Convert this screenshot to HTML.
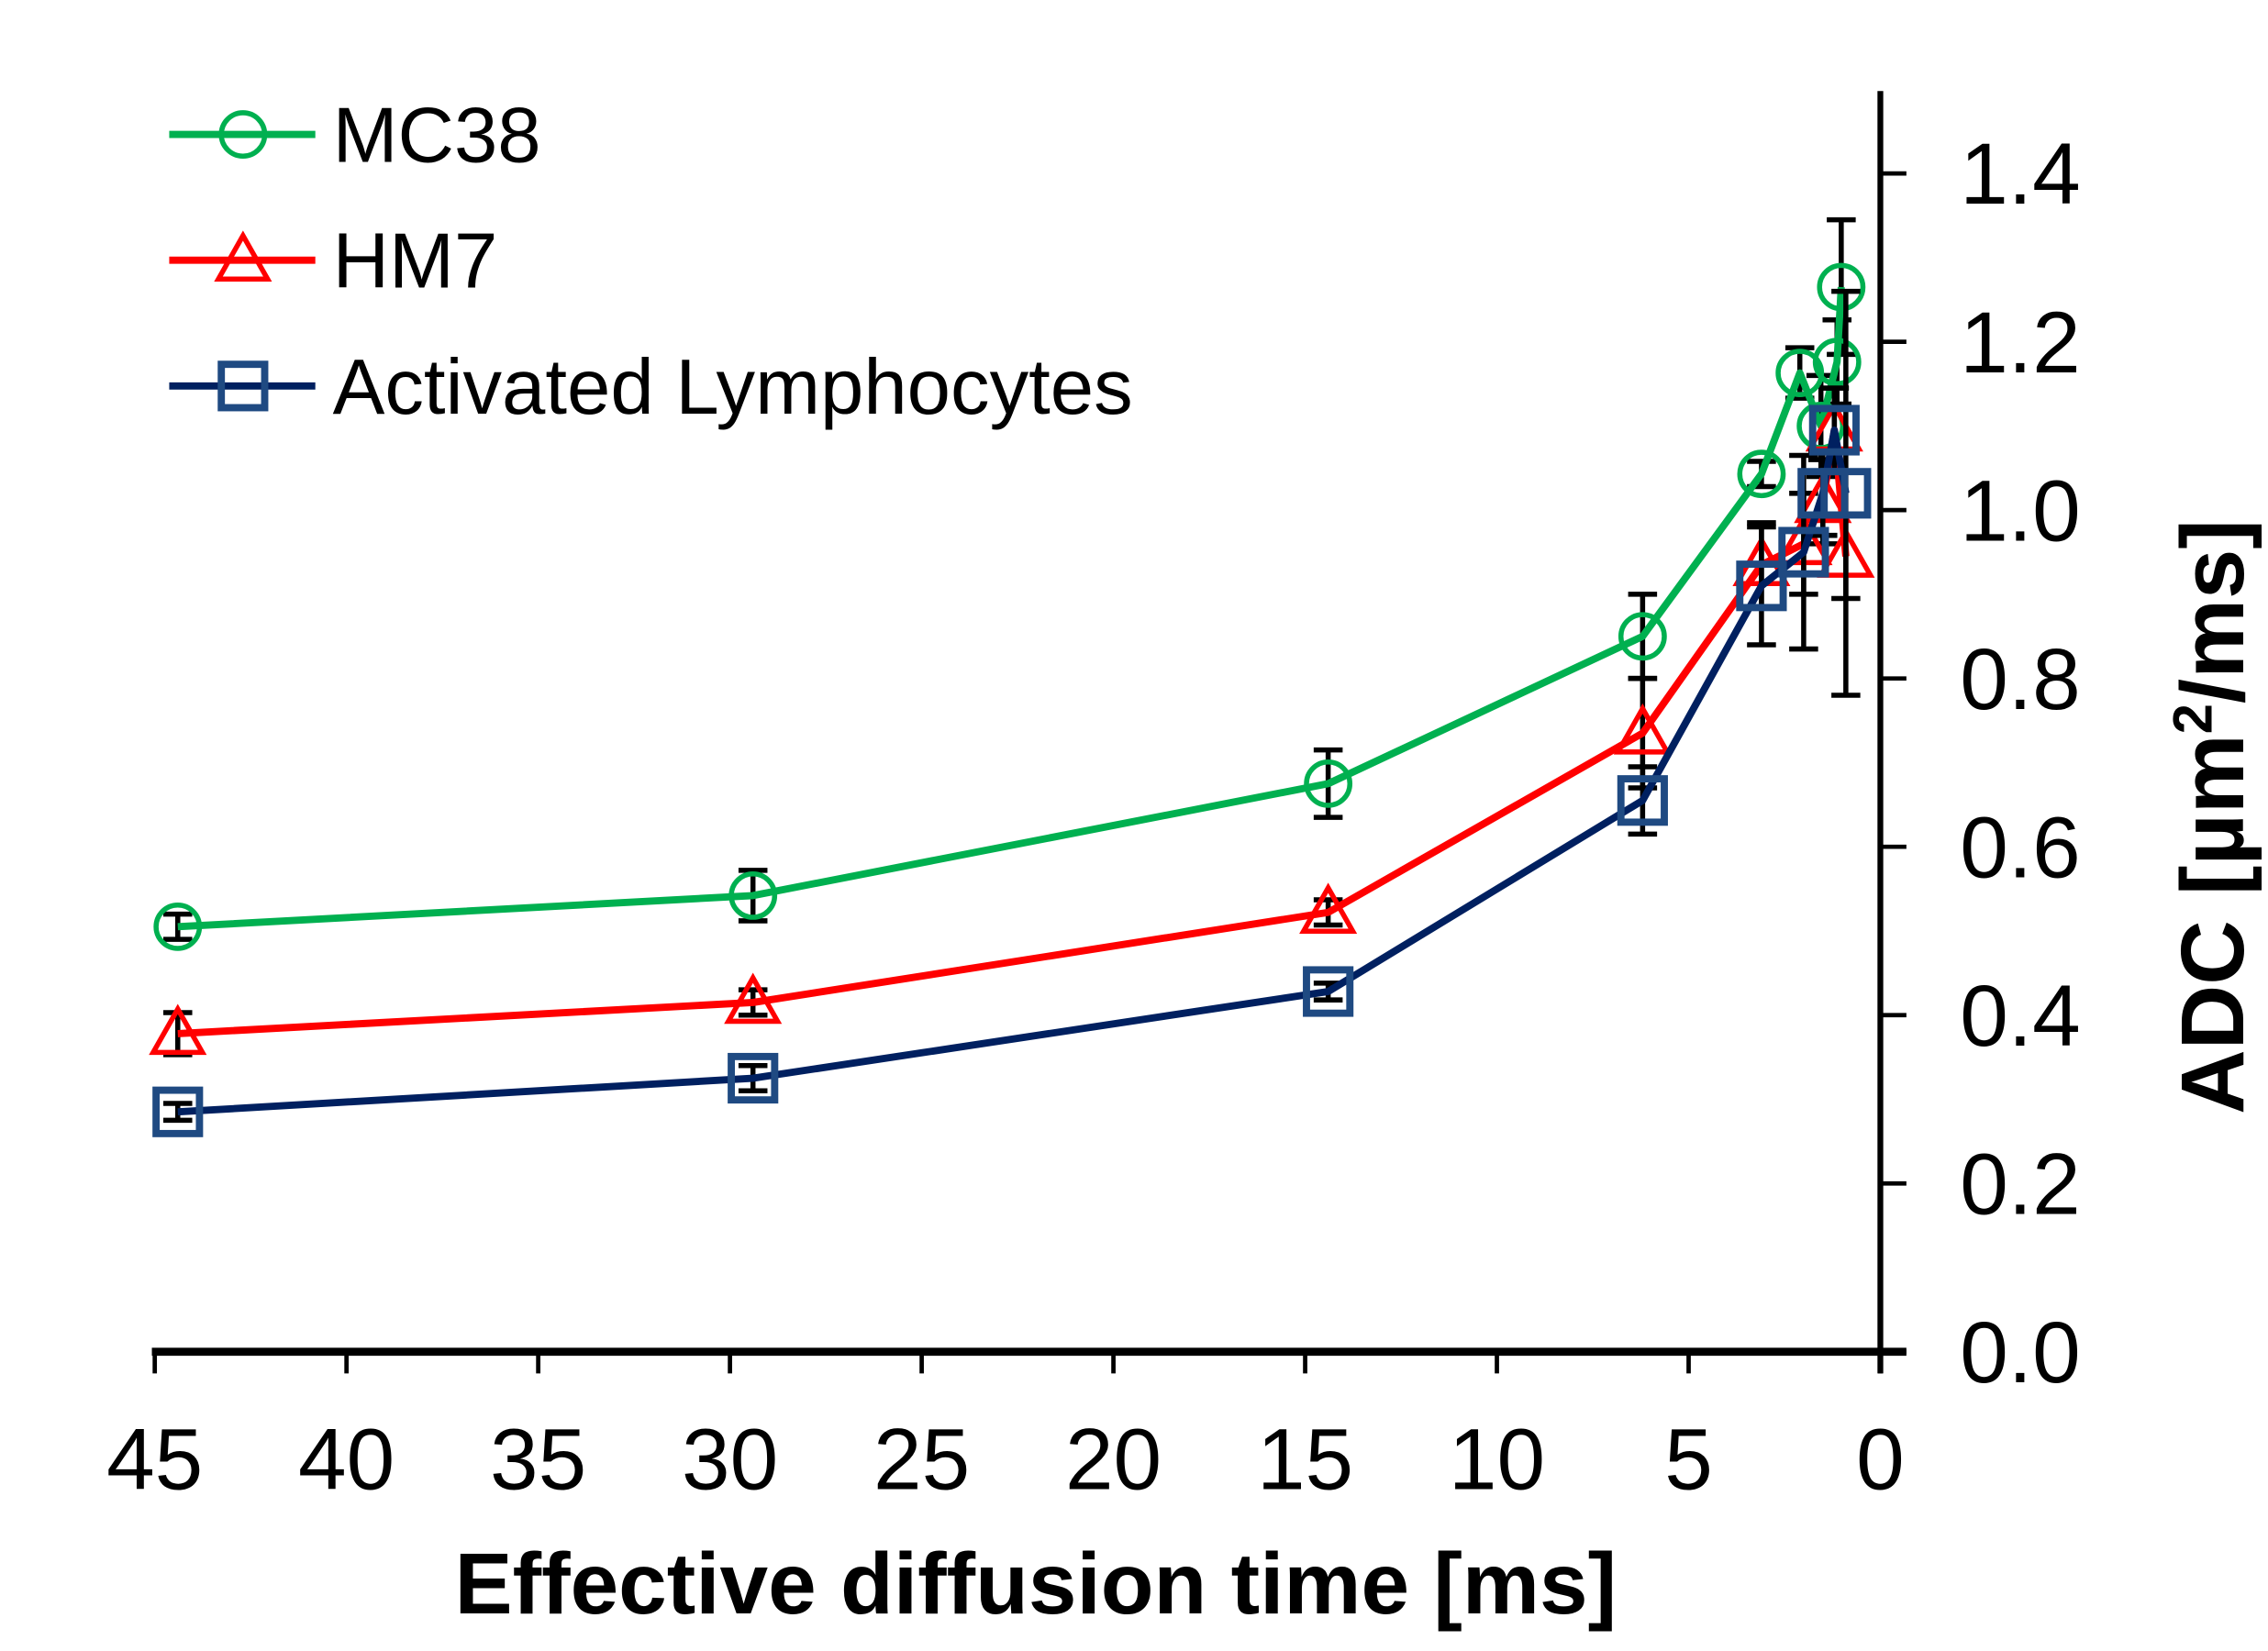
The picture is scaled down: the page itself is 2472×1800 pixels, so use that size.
<!DOCTYPE html>
<html><head><meta charset="utf-8"><style>
html,body{margin:0;padding:0;background:#fff;}
svg{display:block;}
text{font-family:"Liberation Sans",Arial,sans-serif;}
</style></head><body>
<svg id="chart" xmlns="http://www.w3.org/2000/svg" width="2472" height="1800" viewBox="0 0 1568 1142" preserveAspectRatio="none">
<rect width="1568" height="1142" fill="#fff"/>
<g id="axes"></g>
<g id="series"></g>
<g id="legend"></g>
<text x="716" y="1116" font-size="60" font-weight="bold" text-anchor="middle">Effective diffusion time [ms]</text>
<text transform="translate(1551,565) rotate(-90)" font-size="62" font-weight="bold" text-anchor="middle">ADC [µm<tspan font-size="38" dy="-22">2</tspan><tspan dy="22">/ms]</tspan></text>
</svg>
<script>
const xTicks=[45,40,35,30,25,20,15,10,5,0];
const yTicks=[0,0.2,0.4,0.6,0.8,1.0,1.2,1.4];
const mcX=[44.4,29.4,14.4,6.2,3.1,2.1,1.55,1.13,1.02];
const mcY=[0.505,0.542,0.675,0.85,1.043,1.163,1.10,1.176,1.265];
const mcE=[0.015,0.03,0.04,0.05,0.015,0.03,0.06,0.05,0.08];
const hmX=[44.4,29.4,14.4,6.2,3.1,2.0,1.5,1.2,0.9];
const hmY=[0.378,0.415,0.522,0.735,0.935,0.96,1.01,1.095,0.945];
const hmE=[0.025,0.015,0.015,0.065,0.05,0.06,0.05,0.05,0.05];
const lyX=[44.4,29.4,14.4,6.2,3.1,2.0,1.5,1.2,0.9];
const lyY=[0.285,0.325,0.428,0.655,0.91,0.95,1.02,1.095,1.02];
const lyE=[0.01,0.015,0.01,0.04,0.07,0.115,0.05,0.05,0.24];
const NS="http://www.w3.org/2000/svg";
function sx(v){return 1300-v*(1193/45);}
function sy(v){return 935-v*(815/1.4);}
function mk(tag,attrs,parent){const e=document.createElementNS(NS,tag);for(const k in attrs)e.setAttribute(k,attrs[k]);parent.appendChild(e);return e;}
const axes=document.getElementById('axes');
let l=mk('line',{x1:105,y1:935,x2:1318,y2:935,stroke:'#000','stroke-width':5.5},axes);


l=mk('line',{x1:1300,y1:63,x2:1300,y2:950,stroke:'#000','stroke-width':4},axes);


xTicks.forEach(t=>{
 const x=sx(t);
 const tk=mk('line',{x1:x,y1:935,x2:x,y2:950,stroke:'#000','stroke-width':3},axes);
 
 
 const tx=mk('text',{x:x,y:1030,'font-size':60,'text-anchor':'middle'},axes);
 tx.textContent=String(t);
 
 
});
yTicks.forEach(t=>{
 const y=sy(t);
 const tk=mk('line',{x1:1300,y1:y,x2:1318,y2:y,stroke:'#000','stroke-width':3},axes);
 
 
 const tx=mk('text',{x:1355,y:y+21,'font-size':60},axes);
 tx.textContent=t.toFixed(1);
 
 
});
function marker(kind,x,y,color,g){
 let e;
 if(kind==='circle')e=mk('circle',{cx:x,cy:y,r:15,fill:'none',stroke:color,'stroke-width':3.5},g);
 else if(kind==='tri')e=mk('polygon',{points:`${x},${y-17} ${x-17},${y+13} ${x+17},${y+13}`,fill:'none',stroke:color,'stroke-width':3.5},g);
 else e=mk('rect',{x:x-15,y:y-15,width:30,height:30,fill:'none',stroke:color,'stroke-width':5},g);
 return e;
}
const ser=document.getElementById('series');
function drawSeries(name,X,Y,E,lineColor,markColor,kind){
 const g=mk('g',{},ser);
 
 
 X.forEach((v,i)=>{
  const x=sx(v),y1=sy(Y[i]-E[i]),y2=sy(Y[i]+E[i]);
  const eb=mk('path',{d:`M${x},${y1}V${y2}M${x-10},${y1}H${x+10}M${x-10},${y2}H${x+10}`,stroke:'#000','stroke-width':3.5,fill:'none'},g);
  
  
 });
 const pl=mk('polyline',{points:X.map((v,i)=>sx(v)+','+sy(Y[i])).join(' '),fill:'none',stroke:lineColor,'stroke-width':5,'stroke-linejoin':'round'},g);
 
 
 X.forEach((v,i)=>{
  const m=marker(kind,sx(v),sy(Y[i]),markColor,g);
  
  
 });
}
drawSeries('mc38',mcX,mcY,mcE,'#00b050','#00b050','circle');
drawSeries('hm7',hmX,hmY,hmE,'#ff0000','#ff0000','tri');
drawSeries('lymphocytes',lyX,lyY,lyE,'#002060','#1f4a82','rect');
const leg=document.getElementById('legend');
[['MC38','#00b050','#00b050','circle',93],['HM7','#ff0000','#ff0000','tri',180],['Activated Lymphocytes','#002060','#1f4a82','rect',267]].forEach(r=>{
 const g=mk('g',{},leg);
 
 
 mk('line',{x1:117,y1:r[4],x2:218,y2:r[4],stroke:r[1],'stroke-width':5},g);
 marker(r[3],168,r[4],r[2],g);
 const t=mk('text',{x:230,y:r[4]+19,'font-size':54},g);
 t.textContent=r[0];
});
</script>
</body></html>
